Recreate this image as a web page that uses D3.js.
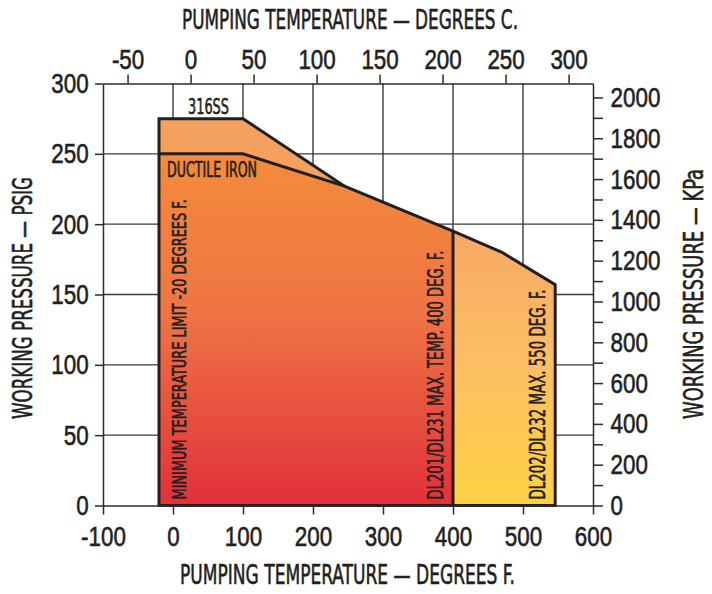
<!DOCTYPE html>
<html>
<head>
<meta charset="utf-8">
<script src="https://cdn.jsdelivr.net/npm/d3@7"></script>
<style>
  body { margin: 0; background: #fff; }
  svg { display: block; font-family: "Liberation Sans Narrow", "Arial Narrow", "DejaVu Sans Condensed", sans-serif; }
  svg text { stroke: #231f20; stroke-width: 0.6; }
  .axis path, .axis line { stroke: #2b2b2b; stroke-width: 1.5; }
  .axis text { fill: #231f20; font-size: 28px; }
</style>
</head>
<body>
<div id="chart"></div>
<script>
// values
const fTicks = [-100, 0, 100, 200, 300, 400, 500, 600];
const cTicks = [-50, 0, 50, 100, 150, 200, 250, 300];
const psiTicks = [0, 50, 100, 150, 200, 250, 300];
const kpaTicks = d3.range(0, 2001, 100);
const gridF = [0, 100, 200, 300, 400, 500];
const gridPsi = [50, 100, 150, 200, 250];

// pressure limit curves: degrees F / psig
const ductileF = [-20, 100, 245, 400];
const ductilePsi = [250, 250, 227, 195];
const ss316F = [-20, 100, 245];
const ss316Psi = [275, 275, 227];
const dl202F = [400, 470, 546];
const dl202Psi = [195, 180, 157];

const width = 712, height = 594;
const ink = "#231f20";

const x = d3.scaleLinear().domain([-100, 600]).range([103, 593]);
const y = d3.scaleLinear().domain([0, 300]).range([505.5, 83.5]);
// the printed celsius scale sits a few px left of the exact conversion
const xC = d3.scaleLinear().domain([-69.5, 319.4]).range(x.range());
const yK = d3.scaleLinear().domain([0, 300 * 6.894757]).range(y.range());

const svg = d3.select("#chart").append("svg")
  .attr("width", width)
  .attr("height", height)
  .attr("viewBox", [0, 0, width, height]);

const defs = svg.append("defs");

function gradient(id, y1, y2, stops) {
  const g = defs.append("linearGradient")
    .attr("id", id)
    .attr("gradientUnits", "userSpaceOnUse")
    .attr("x1", 0).attr("x2", 0)
    .attr("y1", y1).attr("y2", y2);
  g.selectAll("stop").data(stops).join("stop")
    .attr("offset", d => d[0])
    .attr("stop-color", d => d[1]);
}
gradient("gMain", y(250), y(0), [[0, "#f48b3a"], [0.45, "#ef7444"], [1, "#e1303b"]]);
gradient("gHot", y(195), y(0), [[0, "#f9a865"], [0.5, "#fcbf63"], [1, "#ffd244"]]);

// grid
svg.append("g")
  .selectAll("line").data(gridPsi).join("line")
  .attr("x1", x(-100)).attr("x2", x(600))
  .attr("y1", d => y(d)).attr("y2", d => y(d))
  .attr("stroke", "#3a3a3a").attr("stroke-width", 1.4);
svg.append("g")
  .selectAll("line").data(gridF).join("line")
  .attr("x1", d => x(d)).attr("x2", d => x(d))
  .attr("y1", y(0)).attr("y2", y(300))
  .attr("stroke", "#3a3a3a").attr("stroke-width", 1.4);

const pts = (fs, ps) => fs.map((f, i) => [x(f), y(ps[i])]);
const line = d3.line();

const ductile = pts(ductileF, ductilePsi);
const ss = pts(ss316F, ss316Psi);
const hot = pts(dl202F, dl202Psi);

// fills
svg.append("path")
  .attr("d", line([[x(-20), y(0)], ...ductile, [x(400), y(0)]]) + "Z")
  .attr("fill", "url(#gMain)");
svg.append("path")
  .attr("d", line([...ss, ...ductile.slice(0, 2).reverse()]) + "Z")
  .attr("fill", "#f6a05e");
svg.append("path")
  .attr("d", line([[x(400), y(0)], ...hot, [x(dl202F[2]), y(0)]]) + "Z")
  .attr("fill", "url(#gHot)");

// outlines
const outline = svg.append("g")
  .attr("fill", "none")
  .attr("stroke", ink)
  .attr("stroke-width", 3)
  .attr("stroke-linejoin", "miter");
outline.append("path")
  .attr("d", line([[x(dl202F[2]), y(0)], [x(-20), y(0)], [x(-20), y(275)], ...ss.slice(1), ...ductile.slice(3), ...hot.slice(1), [x(dl202F[2]), y(0)]]) + "Z");
outline.append("path").attr("d", line(ductile.slice(0, 3)));
outline.append("path").attr("d", line([[x(400), y(0)], [x(400), y(195)]]));

// axes
const fmt = d => String(d).replace("\u2212", "-");
const scaleTicks = sel => sel.selectAll(".tick text").attr("transform", "scale(0.8,1)");

svg.append("g").attr("class", "axis")
  .attr("transform", `translate(0,${y(0)})`)
  .call(d3.axisBottom(x).tickValues(fTicks).tickSize(9).tickSizeOuter(0).tickPadding(12).tickFormat(fmt))
  .call(scaleTicks);

svg.append("g").attr("class", "axis")
  .attr("transform", `translate(0,${y(300)})`)
  .call(d3.axisTop(xC).tickValues(cTicks).tickSize(9).tickSizeOuter(0).tickPadding(6).tickFormat(fmt))
  .call(scaleTicks);

svg.append("g").attr("class", "axis")
  .attr("transform", `translate(${x(-100)},0)`)
  .call(d3.axisLeft(y).tickValues(psiTicks).tickSize(8).tickSizeOuter(0).tickPadding(10).tickFormat(fmt))
  .call(scaleTicks);

svg.append("g").attr("class", "axis")
  .attr("transform", `translate(${x(600)},0)`)
  .call(d3.axisRight(yK).tickValues(kpaTicks).tickSize(10).tickSizeOuter(0).tickPadding(12)
    .tickFormat(d => d % 200 === 0 ? d : ""))
  .call(scaleTicks);

// titles
function label(text, tx, ty, size, len, anchor, rot) {
  svg.append("text")
    .attr("transform", `translate(${tx},${ty})` + (rot ? " rotate(-90)" : ""))
    .attr("text-anchor", anchor)
    .attr("font-size", size)
    .attr("fill", ink)
    .attr("textLength", len)
    .attr("lengthAdjust", "spacingAndGlyphs")
    .text(text);
}
label("PUMPING TEMPERATURE \u2014 DEGREES C.", 350, 29, 27, 336, "middle");
label("PUMPING TEMPERATURE \u2014 DEGREES F.", 347.5, 584, 27, 335, "middle");
label("WORKING PRESSURE \u2014 PSIG", 31.5, 298, 27, 242, "middle", true);
label("WORKING PRESSURE \u2014 KPa", 703, 294, 27, 250, "middle", true);

// region labels
label("316SS", (x(0) + x(100)) / 2 + 0.5, y(275) - 5, 21, 41, "middle");
label("DUCTILE IRON", x(-20) + 8, y(250) + 23, 21, 90, "start");
label("MINIMUM TEMPERATURE LIMIT -20 DEGREES F.", x(-20) + 27, y(0) - 6, 19, 300, "start", true);
label("DL201/DL231 MAX. TEMP. 400 DEG. F.", x(400) - 10, y(0) - 6, 21, 249, "start", true);
label("DL202/DL232 MAX. 550 DEG. F.", x(dl202F[2]) - 10, y(0) - 6, 21, 210, "start", true);
</script>
</body>
</html>
